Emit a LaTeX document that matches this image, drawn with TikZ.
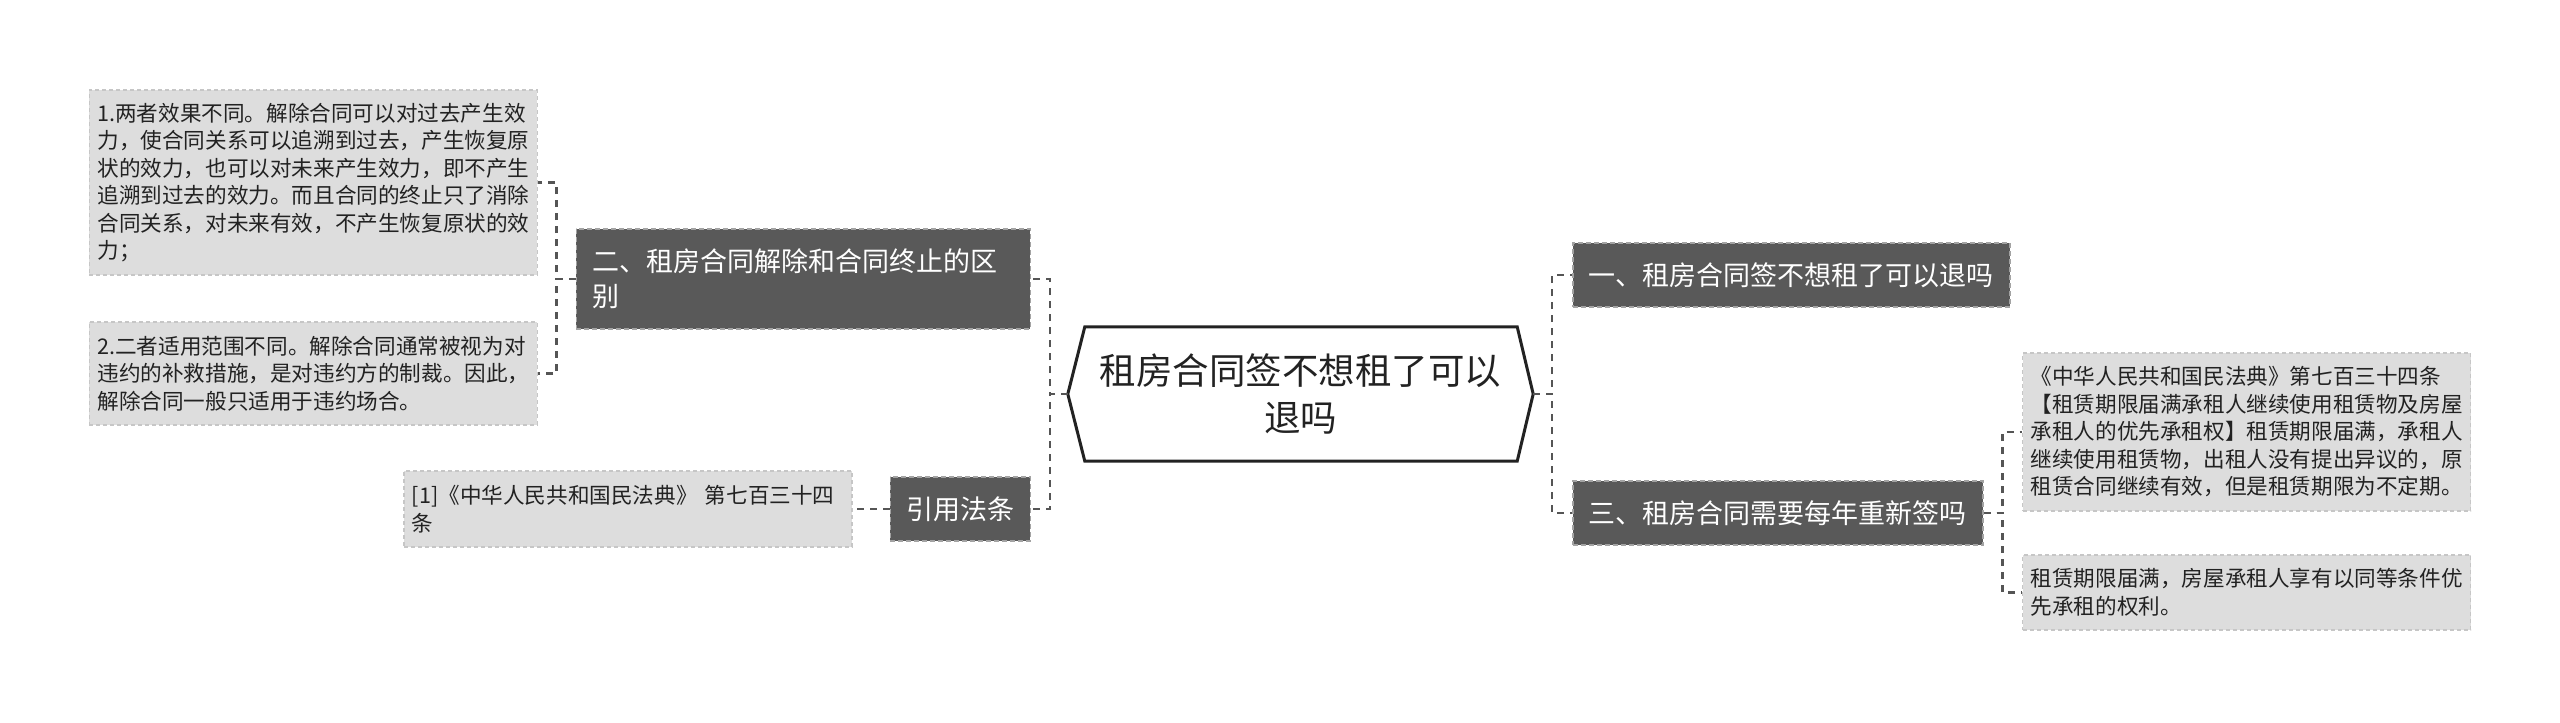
\documentclass[tikz,border=0pt]{standalone}
\usepackage{fontspec}
\setmainfont{Noto Sans CJK SC}
\usetikzlibrary{positioning}
\definecolor{dk}{HTML}{595959}
\definecolor{dkb}{HTML}{A3A3A3}
\definecolor{lf}{HTML}{DDDDDD}
\definecolor{lfb}{HTML}{C6C6C6}
\definecolor{ln}{HTML}{555555}
\definecolor{tx}{HTML}{222222}
\tikzset{
  rootbox/.style={
    rectangle, draw=none, text=tx, font=\fontsize{36.5}{47}\selectfont,
    minimum width=465pt, minimum height=134pt, text width=420pt,
    align=center, inner sep=0pt
  },
  dbox/.style={
    rectangle, draw=dkb, line width=1.5pt, dash pattern=on 5pt off 3pt,
    fill=dk, text=white, font=\fontsize{27}{35}\selectfont,
    minimum height=64pt, inner xsep=16pt, inner ysep=4pt
  },
  lbox/.style={
    rectangle, draw=lfb, line width=1.2pt, dash pattern=on 4pt off 3pt,
    fill=lf, text=tx, font=\fontsize{21.6}{27.5}\selectfont,
    text width=432pt, align=left, inner xsep=8pt, inner ysep=4pt
  },
  link/.style={draw=ln, line width=2.5pt, dash pattern=on 7pt off 6pt}
}
\begin{document}
\begin{tikzpicture}[x=1pt, y=-1pt]
\fill[white] (0,0) rectangle (2560,723);
\useasboundingbox (0,0) rectangle (2560,723);

\node[rootbox] (root) at (1300.5,394) {租房合同签不想租了可以\\退吗};
\draw[tx, line width=3pt, line join=miter]
  (root.west) -- ([xshift=17pt]root.north west) -- ([xshift=-16pt]root.north east)
  -- (root.east) -- ([xshift=-16pt]root.south east) -- ([xshift=17pt]root.south west)
  -- cycle;

% right side
\node[dbox, anchor=west] (one) at (1572,275) {一、租房合同签不想租了可以退吗};
\node[dbox, anchor=west] (three) at (1572,513) {三、租房合同需要每年重新签吗};

\node[lbox, anchor=west, minimum height=158pt] (lawa) at (2022,432)
  {《中华人民共和国民法典》第七百三十四条\\
   【租赁期限届满承租人继续使用租赁物及房屋\\
   承租人的优先承租权】租赁期限届满，承租人\\
   继续使用租赁物，出租人没有提出异议的，原\\
   租赁合同继续有效，但是租赁期限为不定期。};
\node[lbox, anchor=west, minimum height=75pt] (lawb) at (2022,592.5)
  {租赁期限届满，房屋承租人享有以同等条件优\\
   先承租的权利。};

% left side
\node[dbox, anchor=east, minimum height=100pt, text width=422pt, align=left]
  (two) at (1031,279) {二、租房合同解除和合同终止的区\\别};
\node[dbox, anchor=east] (cite) at (1031,509) {引用法条};

\node[lbox, anchor=east, minimum height=185pt] (diff1) at (538,182.5)
  {1.两者效果不同。解除合同可以对过去产生效\\
   力，使合同关系可以追溯到过去，产生恢复原\\
   状的效力，也可以对未来产生效力，即不产生\\
   追溯到过去的效力。而且合同的终止只了消除\\
   合同关系，对未来有效，不产生恢复原状的效\\
   力；};
\node[lbox, anchor=east, minimum height=103pt] (diff2) at (538,373.5)
  {2.二者适用范围不同。解除合同通常被视为对\\
   违约的补救措施，是对违约方的制裁。因此，\\
   解除合同一般只适用于违约场合。};

\node[lbox, left=37pt of cite, minimum height=76pt] (ref)
  {[1]《中华人民共和国民法典》 第七百三十四\\条};

\draw[link] (root.west) -- ++(-18,0) |- (two.east);
\draw[link] (root.west) -- ++(-18,0) |- (cite.east);
\draw[link] (root.east) -- ++(19,0) |- (one.west);
\draw[link] (root.east) -- ++(19,0) |- (three.west);
\draw[link] (two.west) -- ++(-19,0) |- (diff1.east);
\draw[link] (two.west) -- ++(-19,0) |- (diff2.east);
\draw[link] (three.east) -- ++(19,0) |- (lawa.west);
\draw[link] (three.east) -- ++(19,0) |- (lawb.west);
\draw[link] (cite.west) -- (ref.east);

\end{tikzpicture}
\end{document}
